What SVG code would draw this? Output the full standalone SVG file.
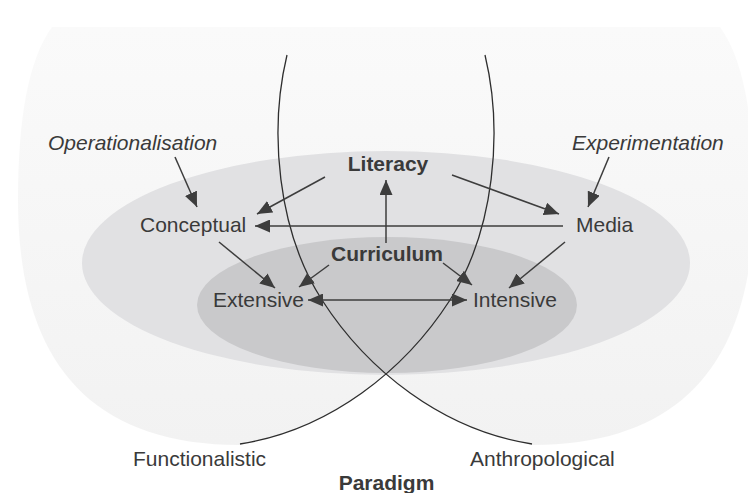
<svg xmlns="http://www.w3.org/2000/svg" width="748" height="493" viewBox="0 0 748 493">
  <defs>
    <linearGradient id="paradigmFill" x1="0" y1="0" x2="0" y2="1">
      <stop offset="0" stop-color="#fafafa"/>
      <stop offset="1" stop-color="#f2f2f2"/>
    </linearGradient>
    <marker id="head" markerUnits="userSpaceOnUse" markerWidth="16" markerHeight="13" refX="15" refY="6.5" orient="auto-start-reverse">
      <path d="M0,0 L15,6.5 L0,13 Z" fill="#3d3d3d"/>
    </marker>
    <style>
      text { font-family: "Liberation Sans", Arial, sans-serif; font-size: 21px; fill: #3a3a3a; }
      .em { font-style: italic; }
      .strong { font-weight: bold; }
      .mid { text-anchor: middle; }
      .link { fill: none; stroke: #3d3d3d; stroke-width: 1.5; marker-end: url(#head); }
      .both { marker-start: url(#head); }
      .paradigm-line { fill: none; stroke: #2e2e2e; stroke-width: 1.3; }
    </style>
  </defs>

  <!-- Paradigm field: two lobes meeting under the crossing lines -->
  <g id="field">
    <path d="M52 27 L720 27 C744 60 754 120 754 200 C754 350 692 445 532 445 L240 445 C80 445 18 350 18 200 C18 120 28 60 52 27 Z" fill="url(#paradigmFill)"/>
    <path d="M240 444 C295.5 435.4 345.3 409.5 386 374 C426.7 409.5 476.5 435.4 532 444 L532 470 L240 470 Z" fill="#ffffff"/>
    <ellipse id="curriculum-field" cx="386" cy="263" rx="304" ry="112" fill="#e1e1e3"/>
    <ellipse id="intensity-field" cx="387" cy="305" rx="190" ry="68" fill="#c9c9cb"/>
  </g>

  <!-- Paradigm lines -->
  <g id="paradigm-lines">
    <path class="paradigm-line" d="M287 55 C269 130 277 230 322 300 C367 370 442 430 532 444"/>
    <path class="paradigm-line" d="M485 55 C503 130 495 230 450 300 C405 370 330 430 240 444"/>
  </g>

  <g id="connectors">
    <line class="link" x1="175" y1="157" x2="197" y2="207"/>
    <line class="link" x1="609" y1="157" x2="588" y2="207"/>
    <line class="link" x1="325" y1="177" x2="257" y2="214"/>
    <line class="link" x1="452" y1="175" x2="559" y2="214"/>
    <line class="link" x1="563" y1="226" x2="255" y2="226"/>
    <line class="link" x1="386" y1="243" x2="386" y2="180"/>
    <line class="link" x1="219" y1="242" x2="275" y2="288"/>
    <line class="link" x1="329" y1="265" x2="299" y2="287"/>
    <line class="link" x1="443" y1="263" x2="472" y2="285"/>
    <line class="link" x1="565" y1="242" x2="509" y2="288"/>
    <line class="link both" x1="308" y1="300" x2="467" y2="300"/>
  </g>

  <g id="operationalisation"><text class="em" x="48" y="150">Operationalisation</text></g>
  <g id="experimentation"><text class="em" x="572" y="150">Experimentation</text></g>
  <g id="literacy"><text class="strong mid" x="388" y="171">Literacy</text></g>
  <g id="conceptual"><text x="140" y="232">Conceptual</text></g>
  <g id="media"><text x="576" y="232">Media</text></g>
  <g id="curriculum"><text class="strong mid" x="387" y="261">Curriculum</text></g>
  <g id="extensive"><text x="213" y="307">Extensive</text></g>
  <g id="intensive"><text x="473" y="307">Intensive</text></g>
  <g id="functionalistic"><text x="133" y="466">Functionalistic</text></g>
  <g id="anthropological"><text x="470" y="466">Anthropological</text></g>
  <g id="paradigm"><text class="strong mid" x="386.5" y="490">Paradigm</text></g>
</svg>
